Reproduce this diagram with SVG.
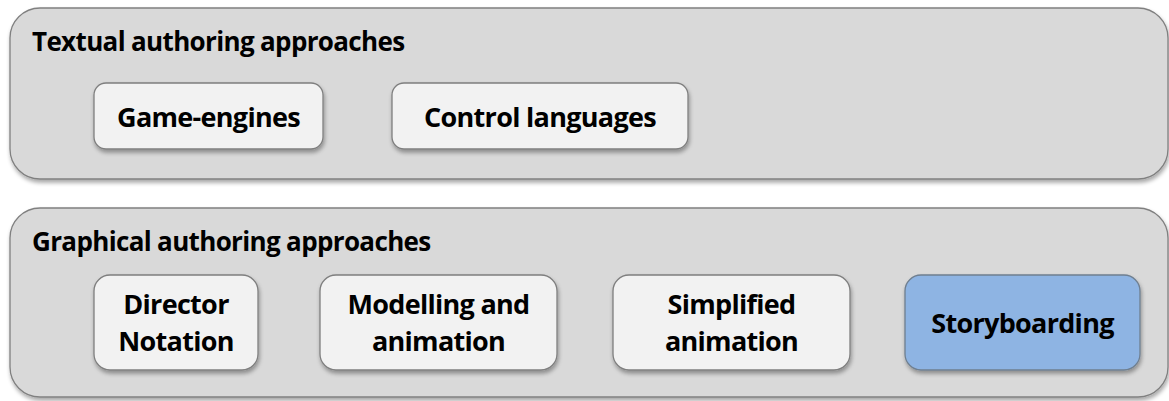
<svg xmlns="http://www.w3.org/2000/svg" width="1169" height="401" viewBox="0 0 1169 401">
  <defs>
    <filter id="shadow" x="-5%" y="-10%" width="110%" height="130%">
      <feGaussianBlur in="SourceAlpha" stdDeviation="2"/>
      <feOffset dx="1" dy="3" result="b"/>
      <feComponentTransfer><feFuncA type="linear" slope="0.35"/></feComponentTransfer>
      <feMerge><feMergeNode/><feMergeNode in="SourceGraphic"/></feMerge>
    </filter>
    <style>
      .group { fill: #d9d9d9; stroke: #808080; stroke-width: 1.3; }
      .item { fill: #f2f2f2; stroke: #7f7f7f; stroke-width: 1.3; }
      .hl { fill: #8eb4e3; stroke: #6f7f90; stroke-width: 1.3; }
      .title { font-family: "Open Sans", sans-serif; font-weight: bold; font-size: 26px; letter-spacing: -0.65px; fill: #000; }
      .label { font-family: "Open Sans", sans-serif; font-weight: bold; font-size: 27px; letter-spacing: -0.7px; fill: #000; text-anchor: middle; }
    </style>
  </defs>

  <g id="textual">
    <rect class="group" x="10" y="8" width="1158" height="171" rx="30" filter="url(#shadow)"/>
    <text class="title" x="32" y="51">Textual authoring approaches</text>
  </g>
  <g id="game-engines">
    <rect class="item" x="94" y="83" width="229" height="66" rx="12" filter="url(#shadow)"/>
    <text class="label" x="208.5" y="127">Game-engines</text>
  </g>
  <g id="control-languages">
    <rect class="item" x="392" y="83" width="296" height="66" rx="12" filter="url(#shadow)"/>
    <text class="label" x="540" y="127">Control languages</text>
  </g>

  <g id="graphical">
    <rect class="group" x="10" y="208" width="1158" height="189" rx="30" filter="url(#shadow)"/>
    <text class="title" x="32" y="251">Graphical authoring approaches</text>
  </g>
  <g id="director-notation">
    <rect class="item" x="94" y="275" width="164" height="95" rx="16" filter="url(#shadow)"/>
    <text class="label" x="176" y="314">Director</text>
    <text class="label" x="176" y="351">Notation</text>
  </g>
  <g id="modelling-animation">
    <rect class="item" x="320" y="275" width="237" height="95" rx="16" filter="url(#shadow)"/>
    <text class="label" x="438.5" y="314">Modelling and</text>
    <text class="label" x="438.5" y="351">animation</text>
  </g>
  <g id="simplified-animation">
    <rect class="item" x="613" y="275" width="237" height="95" rx="16" filter="url(#shadow)"/>
    <text class="label" x="731.5" y="314">Simplified</text>
    <text class="label" x="731.5" y="351">animation</text>
  </g>
  <g id="storyboarding">
    <rect class="hl" x="905" y="275" width="235" height="95" rx="16" filter="url(#shadow)"/>
    <text class="label" x="1022.5" y="333">Storyboarding</text>
  </g>

  <g id="connectors"/>
</svg>
